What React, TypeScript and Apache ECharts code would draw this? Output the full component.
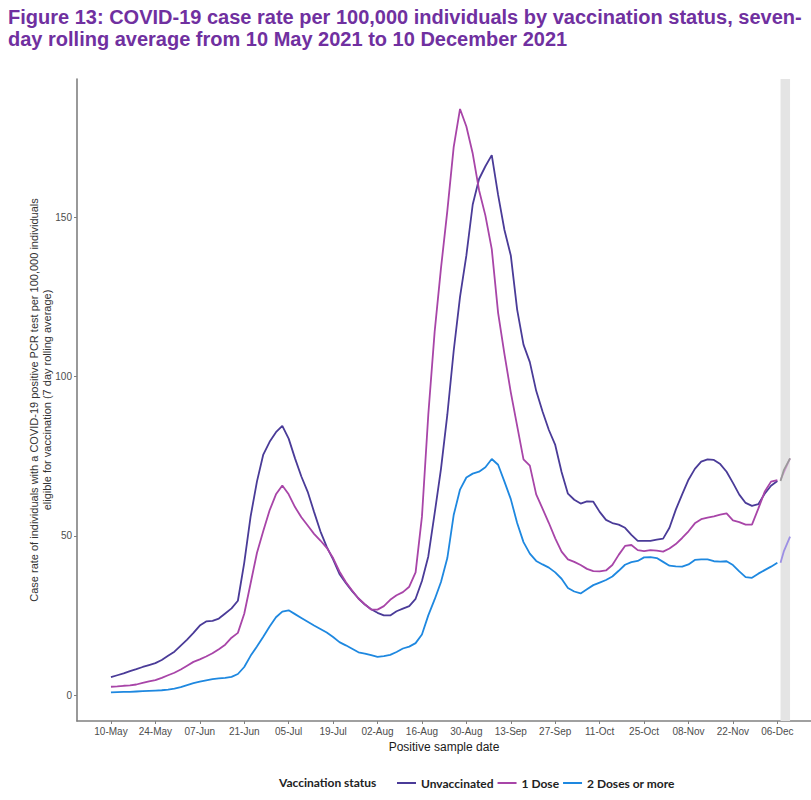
import React, { useEffect, useRef } from "react";
import * as echarts from "echarts";

// ---- Data -------------------------------------------------------------
const START_DATE = "2021-05-10";
const STEP_DAYS = 2; // one reading every 2 days from 10 May 2021

const tickDates = [
  "2021-05-10", "2021-05-24", "2021-06-07", "2021-06-21", "2021-07-05", "2021-07-19",
  "2021-08-02", "2021-08-16", "2021-08-30", "2021-09-13", "2021-09-27", "2021-10-11",
  "2021-10-25", "2021-11-08", "2021-11-22", "2021-12-06",
];
const tickLabels = [
  "10-May", "24-May", "07-Jun", "21-Jun", "05-Jul", "19-Jul", "02-Aug", "16-Aug",
  "30-Aug", "13-Sep", "27-Sep", "11-Oct", "25-Oct", "08-Nov", "22-Nov", "06-Dec",
];
const yTicks = [0, 50, 100, 150];

// 10 May .. 6 Dec, every 2 days
const unvaccinated = [
  5.6, 6.2, 6.8, 7.5, 8.1, 8.8, 9.4, 10.0, 11.0, 12.3,
  13.6, 15.5, 17.4, 19.5, 21.8, 23.1, 23.3, 24.0, 25.6, 27.2,
  29.6, 41.5, 56, 67, 75.5, 79.5, 82.5, 84.5, 80.5, 74.3,
  68.6, 63.8, 57.5, 51.4, 46.5, 42.6, 38, 35.2, 32.6, 30.3,
  28.4, 26.9, 25.8, 25.0, 25.0, 26.3, 27.1, 27.9, 30.2, 35.8,
  43.5, 57, 71, 88, 108, 125, 138, 154, 162, 166,
  169.5, 157, 146, 138, 121, 110, 104.5, 95.5, 89, 83.2,
  78.5, 70, 63.2, 61.3, 60.1, 60.8, 60.7, 57.5, 55, 54,
  53.5, 52.5, 50.3, 48.4, 48.4, 48.4, 48.8, 49.1, 52.5, 58.2,
  63, 67.6, 71, 73.3, 74, 73.8, 72.5, 70.1, 66.6, 62.9,
  60.3, 59.4, 59.9, 63.2, 65.7, 67.2,
];
const oneDose = [
  2.6, 2.7, 2.9, 3.0, 3.3, 3.8, 4.3, 4.7, 5.4, 6.2,
  7.0, 8.0, 9.2, 10.4, 11.2, 12.1, 13.1, 14.4, 15.8, 18.0,
  19.5, 25.5, 35, 44.6, 51.5, 58, 63, 65.8, 63, 59,
  55.8, 53.2, 50.6, 48.5, 46.2, 43, 38.8, 35.5, 32.8, 30.3,
  28.5, 26.8, 26.8, 27.9, 29.9, 31.3, 32.3, 34.0, 38.5, 56,
  88, 114, 134, 152, 172, 184, 178.5, 170, 158.5, 150.5,
  140, 120, 107, 95, 84.5, 74, 72, 63, 58.5, 54,
  49.2, 45, 42.6, 41.8, 40.8, 39.6, 38.9, 38.8, 39.1, 40.8,
  44, 46.8, 47.1, 45.5, 45.2, 45.5, 45.3, 45, 46, 47.4,
  49.3, 51.4, 53.9, 55.2, 55.7, 56.1, 56.6, 57, 54.8, 54.3,
  53.5, 53.5, 58.5, 63.8, 67, 67.5,
];
const twoDoses = [
  0.8, 0.9, 1.0, 1.0, 1.1, 1.2, 1.3, 1.4, 1.5, 1.7,
  2.0, 2.5, 3.1, 3.7, 4.2, 4.6, 5.0, 5.2, 5.4, 5.7,
  6.6, 8.8, 12.3, 15.2, 18.3, 21.5, 24.4, 26.2, 26.6, 25.4,
  24.2, 23, 21.8, 20.7, 19.6, 18.2, 16.6, 15.6, 14.5, 13.4,
  13, 12.5, 12, 12.2, 12.6, 13.5, 14.6, 15.2, 16.3, 19,
  25, 30, 35.5, 43, 56.5, 64.5, 68.3, 69.5, 70.1, 71.5,
  74.1, 72.3, 67, 61.5, 54, 48, 44.4, 42.1, 41, 40,
  38.5, 36.5, 33.6, 32.5, 31.9, 33.2, 34.5, 35.3, 36.1, 37.2,
  39, 40.9, 41.7, 42.1, 43.2, 43.3, 43, 41.8, 40.6, 40.4,
  40.3, 41, 42.4, 42.6, 42.6, 42, 41.9, 42, 40.8, 38.8,
  37, 36.8, 38.1, 39.2, 40.3, 41.5,
];

// Last (incomplete) days, drawn in lighter colours
const tailDates = ["2021-12-07", "2021-12-08", "2021-12-10"];
const unvaccinatedTail = [67.2, 70.5, 74.3];
const oneDoseTail = [67.5, 69.8, 74.3];
const twoDosesTail = [41.5, 45, 49.7];

const shadedPeriod = ["2021-12-07", "2021-12-10"];
const lastDate = "2021-12-10";

// ---- Helpers ----------------------------------------------------------
const DAY_MS = 86400000;
const dayIndex = (d: string) => Math.round((Date.parse(d) - Date.parse(START_DATE)) / DAY_MS);
const toPairs = (vals: number[]) => vals.map((v, i) => [i * STEP_DAYS, v]);
const tailPairs = (vals: number[]) => vals.map((v, i) => [dayIndex(tailDates[i]), v]);

const COLORS = { unvac: "#4a3b98", one: "#a845a8", two: "#1e88e0" };
const TAIL = { unvac: "#9a9a9a", one: "#d49ad4", two: "#9c8fe4" };

export default function App() {
  const ref = useRef<HTMLDivElement>(null);

  useEffect(() => {
    if (!ref.current) return;
    const chart = echarts.init(ref.current, undefined, { renderer: "svg" });

    const tickDays = tickDates.map(dayIndex);
    const span = dayIndex(lastDate);
    const xMin = -0.05 * span;
    const xMax = 220.6;

    const axisGrey = "#808080";
    const labelGrey = "#4d4d4d";

    const lineSeries = (name: string, data: number[][], color: string, extra: any = {}) => ({
      name,
      type: "line",
      data,
      showSymbol: false,
      symbol: "none",
      lineStyle: { color, width: 1.8 },
      itemStyle: { color },
      emphasis: { disabled: true },
      ...extra,
    });

    chart.setOption({
      animation: false,
      title: {
        text:
          "Figure 13: COVID-19 case rate per 100,000 individuals by vaccination status, seven-\nday rolling average from 10 May 2021 to 10 December 2021",
        left: 8,
        top: 6,
        padding: 0,
        textStyle: {
          fontFamily: '"Liberation Sans Narrow", "Liberation Sans", Arial, sans-serif',
          fontWeight: "bold",
          fontSize: 20,
          lineHeight: 22,
          color: "#7030a0",
        },
      },
      grid: { left: 77, right: 0, top: 79, bottom: 79, containLabel: false },
      xAxis: {
        type: "value",
        min: xMin,
        max: xMax,
        name: "Positive sample date",
        nameLocation: "middle",
        nameGap: 19,
        nameTextStyle: { fontFamily: '"Liberation Sans", Arial', fontSize: 12, color: "#1a1a1a" },
        axisLine: { show: true, onZero: false, lineStyle: { color: axisGrey, width: 1.6 } },
        axisTick: { show: true, length: 3, customValues: tickDays, lineStyle: { color: axisGrey } },
        axisLabel: {
          customValues: tickDays,
          margin: 5,
          fontFamily: '"Liberation Sans", Arial',
          fontSize: 10,
          color: labelGrey,
          formatter: (v: number) => {
            const i = tickDays.indexOf(Math.round(v));
            return i >= 0 ? tickLabels[i] : "";
          },
        },
        splitLine: { show: false },
      },
      yAxis: {
        type: "value",
        min: -8.16,
        max: 193.4,
        axisLine: { show: true, onZero: false, lineStyle: { color: axisGrey, width: 1.6 } },
        axisTick: { show: true, length: 3, customValues: yTicks, lineStyle: { color: axisGrey } },
        axisLabel: {
          customValues: yTicks,
          margin: 5,
          fontFamily: '"Liberation Sans", Arial',
          fontSize: 10,
          color: labelGrey,
        },
        splitLine: { show: false },
      },
      legend: {
        left: 392,
        top: 772,
        itemWidth: 19,
        itemHeight: 2,
        itemGap: 4,
        icon: "rect",
        data: ["Unvaccinated", "1 Dose", "2 Doses or more"],
        selectedMode: false,
        textStyle: { fontFamily: "Lato, sans-serif", fontWeight: "bold", fontSize: 12, color: "#222" },
      },
      graphic: [
        {
          type: "text",
          x: 40,
          y: 400,
          rotation: Math.PI / 2,
          silent: true,
          style: {
            text:
              "Case rate of individuals with a COVID-19 positive PCR test per 100,000 individuals\neligible for vaccination (7 day rolling average)",
            align: "center",
            verticalAlign: "middle",
            fontFamily: '"Liberation Sans", Arial',
            fontSize: 11,
            lineHeight: 13,
            fill: "#333",
          },
        },
        {
          type: "text",
          x: 279,
          y: 782,
          silent: true,
          style: {
            text: "Vaccination status",
            verticalAlign: "middle",
            fontFamily: "Lato, sans-serif",
            fontWeight: "bold",
            fontSize: 12,
            fill: "#222",
          },
        },
      ],
      series: [
        lineSeries("Unvaccinated", toPairs(unvaccinated), COLORS.unvac, {
          z: 3,
          markArea: {
            silent: true,
            itemStyle: { color: "#e4e4e4" },
            data: [[{ xAxis: dayIndex(shadedPeriod[0]) }, { xAxis: dayIndex(shadedPeriod[1]) }]],
          },
        }),
        lineSeries("1 Dose", toPairs(oneDose), COLORS.one, { z: 4 }),
        lineSeries("2 Doses or more", toPairs(twoDoses), COLORS.two, { z: 4 }),
        lineSeries("1 Dose (incomplete)", tailPairs(oneDoseTail), TAIL.one, { z: 4 }),
        lineSeries("Unvaccinated (incomplete)", tailPairs(unvaccinatedTail), TAIL.unvac, { z: 5 }),
        lineSeries("2 Doses or more (incomplete)", tailPairs(twoDosesTail), TAIL.two, { z: 4 }),
      ],
    });

    return () => chart.dispose();
  }, []);

  return (
    <div
      ref={ref}
      style={{ position: "absolute", left: 0, top: 0, width: 811, height: 800, background: "#fff" }}
    />
  );
}
